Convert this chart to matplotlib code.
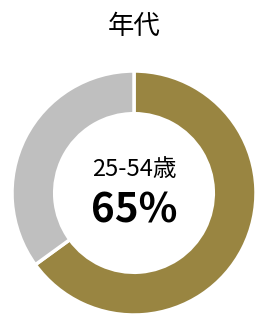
import matplotlib
matplotlib.use('agg')
import matplotlib.pyplot as plt

plt.rcParams['font.family'] = ['Noto Sans CJK JP', 'DejaVu Sans']

title = '年代'
labels = ['25-54歳', 'その他']
values = [65, 35]
colors = ['#998541', '#bfbfbf']

W, H = 257, 315
fig = plt.figure(figsize=(W / 100, H / 100), dpi=100)
ax = fig.add_axes([0, 0, 1, 1])

cx, cy, r = 134, H - 193, 122
ax.pie(values, colors=colors, startangle=90, counterclock=False,
       center=(cx, cy), radius=r, frame=True,
       wedgeprops=dict(width=r * 0.35, edgecolor='white', linewidth=2.5))
ax.set_xlim(0, W)
ax.set_ylim(0, H)
ax.axis('off')

fig.text(cx / W, 1 - 26 / H, title, ha='center', va='center', fontsize=19)
ax.text(cx, H - 170, labels[0], ha='center', va='center', fontsize=17)
ax.text(cx, H - 211, f'{values[0]}%', ha='center', va='center',
        fontsize=29, fontweight='bold')

fig.savefig('out.png', dpi=100)
